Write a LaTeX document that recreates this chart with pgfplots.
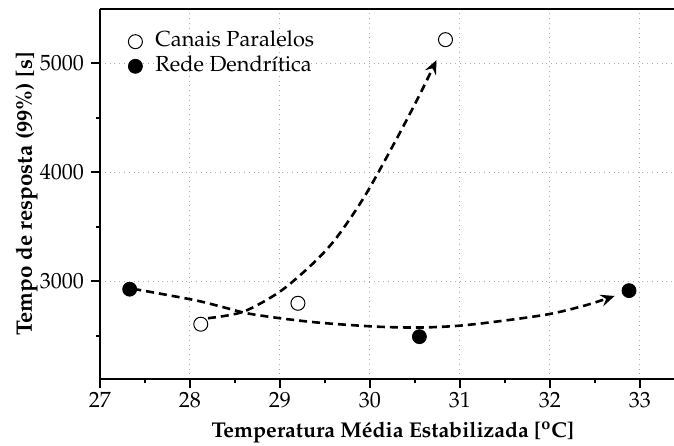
\documentclass[border=0pt]{standalone}
\usepackage[T1]{fontenc}
\usepackage{mathpazo}
\usepackage{pgfplots}
\pgfplotsset{compat=1.18}
\usetikzlibrary{arrows.meta}

\begin{document}
\begin{tikzpicture}
\begin{axis}[
  name=ax,
  scale only axis,
  width=287pt, height=185pt,
  xmin=27, xmax=33.38,
  ymin=2104, ymax=5495,
  xtick={27,28,29,30,31,32,33},
  minor xtick={27.5,28.5,29.5,30.5,31.5,32.5},
  ytick={3000,4000,5000},
  minor ytick={2500,3500,4500},
  tick align=outside,
  xtick pos=bottom, ytick pos=left,
  major tick length=4.5pt, minor tick length=2.2pt,
  every tick/.style={black, line width=1pt},
  axis line style={draw=none},
  grid=major,
  major grid style={gray!65, dotted, line width=0.5pt},
  scaled ticks=false,
  xticklabel style={font=\fontsize{11}{13}\selectfont, yshift=1.5pt},
  yticklabel style={font=\fontsize{11}{13}\selectfont, /pgf/number format/1000 sep={}},
  every axis x label/.style={at={(axis description cs:0.51,-0.157)}, anchor=base},
  every axis y label/.style={at={(axis description cs:-0.1185,0.5)}, anchor=base, rotate=90},
  xlabel={\fontsize{10.7}{12}\selectfont\bfseries Temperatura M\'edia Estabilizada [\textsuperscript{o}C]},
  ylabel={\fontsize{11.2}{12}\selectfont\bfseries Tempo de resposta (99\%) [s]},
  legend style={at={(axis description cs:0.0488,0.943)}, anchor=north west,
    draw=none, fill=none, inner sep=0pt, row sep=1.1pt,
    font=\fontsize{10.9}{12}\selectfont,
    nodes={inner sep=1pt, text height=7.2pt, text depth=2pt},
    /tikz/every odd column/.append style={column sep=5.5pt}},
  legend cell align=left,
  legend image code/.code={\draw[#1] plot coordinates {(4pt,0pt)};},
  clip=false,
]
% axis frame: left, bottom and top spines
\draw[line width=1pt] (rel axis cs:0,1) -- (rel axis cs:0,0) -- (rel axis cs:1,0);
\draw[line width=1pt] (rel axis cs:0,1) -- (rel axis cs:1,1);

% measured points
\addplot[only marks, mark=o, mark size=3.5pt, mark options={line width=0.5pt, fill=white}]
  coordinates {(28.12,2606) (29.20,2798) (30.84,5214)};
\addlegendentry{Canais Paralelos}
\addplot[only marks, mark=*, mark size=3.5pt, mark options={fill=black}]
  coordinates {(27.33,2927) (30.55,2492) (32.88,2914)};
\addlegendentry{Rede Dendr\'{\i}tica}

% trend arrows
\addplot[smooth, line width=1.3pt, dash pattern=on 4pt off 2.5pt,
  -{Stealth[length=7pt, width=6pt, inset=2.5pt]}, forget plot]
  coordinates {(27.37,2930) (28.04,2829) (28.37,2762) (28.63,2707) (29.0,2661)
               (29.44,2620) (30.07,2584) (30.56,2576) (31.0,2593) (31.5,2640)
               (32.0,2700) (32.4,2780) (32.72,2865)};
\addplot[smooth, line width=1.3pt, dash pattern=on 4pt off 2.5pt,
  -{Stealth[length=7pt, width=6pt, inset=2.5pt]}, forget plot]
  coordinates {(28.20,2661) (28.59,2720) (29.0,2905) (29.37,3165) (29.63,3400)
               (29.95,3790) (30.30,4310) (30.56,4720) (30.74,5027)};
\end{axis}
\pgfresetboundingbox
\path (-50pt,-33pt) rectangle (287pt,189.5pt);
\end{tikzpicture}
\end{document}
